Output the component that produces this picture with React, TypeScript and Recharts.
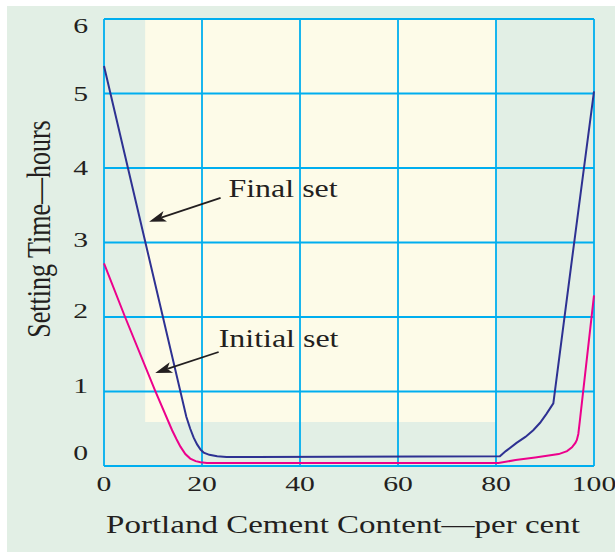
import React from "react";
import {
  LineChart,
  Line,
  XAxis,
  YAxis,
  CartesianGrid,
  ReferenceArea,
  ReferenceLine,
  ReferenceDot,
} from "recharts";

// tick values
const X_TICKS = [0, 20, 40, 60, 80, 100];
const Y_TICKS = [0, 1, 2, 3, 4, 5, 6];

// Final set curve (per cent cement -> hours)
const FINAL_X = [0, 16.8, 17.6, 18.3, 19, 19.7, 20.35, 21.5, 23.1, 25, 80.8, 82, 84.2, 86, 87.6, 89, 90.3, 91, 91.7, 95.5, 100];
const FINAL_Y = [5.37, 0.66, 0.5, 0.38, 0.29, 0.22, 0.18, 0.15, 0.13, 0.12, 0.13, 0.2, 0.31, 0.39, 0.48, 0.58, 0.7, 0.77, 0.84, 2.77, 5.03];

// Initial set curve
const INITIAL_X = [0, 4.3, 10.45, 13.9, 14.8, 15.6, 16.6, 17.6, 18.7, 19.7, 21, 80.5, 84, 88, 92.8, 94.5, 95.5, 96.2, 96.5, 96.8, 97.1, 100];
const INITIAL_Y = [2.72, 2.0, 1.01, 0.48, 0.36, 0.26, 0.16, 0.1, 0.065, 0.05, 0.04, 0.04, 0.08, 0.115, 0.16, 0.2, 0.25, 0.31, 0.35, 0.43, 0.6, 2.29];

// shaded (cream) region of the plot
const SHADE_X = [8.4, 80];
const SHADE_Y = [0.59, 6];

// annotation labels and arrows (data coords)
const LABELS = ["Final set", "Initial set"];
const LABEL_AT = [
  { x: 25.4, y: 3.61 },
  { x: 23.4, y: 1.6 },
];
const ARROWS = [
  [{ x: 23.8, y: 3.6 }, { x: 9.2, y: 3.28 }],
  [{ x: 23.4, y: 1.53 }, { x: 10.45, y: 1.25 }],
];

const finalData = FINAL_X.map((x, i) => ({ x, y: FINAL_Y[i] }));
const initialData = INITIAL_X.map((x, i) => ({ x, y: INITIAL_Y[i] }));

const FONT = "'Liberation Serif', 'Times New Roman', serif";
const INK = "#231f20";
const GRID = "#00aeef";

// small per-label nudges so the digits sit where the original has them
const Y_NUDGE: Record<number, number> = { 0: -14, 1: -6, 2: -7, 3: -3, 4: -1, 5: 0, 6: 6 };

function XTick({ x, y, payload }: any) {
  return (
    <text
      transform={`translate(${x},${y + 17}) scale(1.35,1)`}
      textAnchor="middle"
      fontFamily={FONT}
      fontSize={22}
      fill={INK}
    >
      {payload.value}
    </text>
  );
}

function YTick({ y, payload }: any) {
  const dy = Y_NUDGE[payload.value] ?? 0;
  return (
    <text
      transform={`translate(88,${y + dy + 7.5}) scale(1.35,1)`}
      textAnchor="end"
      fontFamily={FONT}
      fontSize={22}
      fill={INK}
    >
      {payload.value}
    </text>
  );
}

function Arrow(props: any) {
  const { x1, y1, x2, y2 } = props;
  const dx = x2 - x1;
  const dy = y2 - y1;
  const len = Math.sqrt(dx * dx + dy * dy);
  const ux = dx / len;
  const uy = dy / len;
  const head = 17;
  const half = 5.5;
  const bx = x2 - ux * head;
  const by = y2 - uy * head;
  const nx = x2 - ux * head * 0.75;
  const ny = y2 - uy * head * 0.75;
  const pts = [
    [x2, y2],
    [bx - uy * half, by + ux * half],
    [nx, ny],
    [bx + uy * half, by - ux * half],
  ]
    .map((p) => p.join(","))
    .join(" ");
  return (
    <g>
      <line x1={x1} y1={y1} x2={nx} y2={ny} stroke={INK} strokeWidth={1.8} />
      <polygon points={pts} fill={INK} />
    </g>
  );
}

function labelShape(text: string) {
  return (p: any) => (
    <text
      transform={`translate(${p.cx},${p.cy}) scale(1.23,1)`}
      fontFamily={FONT}
      fontSize={26}
      fill={INK}
    >
      {text}
    </text>
  );
}

export default function App() {
  return (
    <div style={{ position: "relative", width: 615, height: 552, background: "#ffffff" }}>
      <style>{"body{margin:0}"}</style>
      <div
        style={{ position: "absolute", left: 7, top: 6, right: 0, bottom: 0, background: "#e2efe5" }}
      />
      <div style={{ position: "absolute", left: 0, top: 0 }}>
        <LineChart width={615} height={552} margin={{ top: 19, right: 21, bottom: 26, left: 44 }}>
          <ReferenceArea
            x1={SHADE_X[0]}
            x2={SHADE_X[1]}
            y1={SHADE_Y[0]}
            y2={SHADE_Y[1]}
            fill="#fdfbe8"
            fillOpacity={1}
            stroke="none"
            zIndex={-150}
          />
          <CartesianGrid stroke={GRID} strokeWidth={1.8} />
          <XAxis
            type="number"
            dataKey="x"
            domain={[0, 100]}
            ticks={X_TICKS}
            axisLine={false}
            tickLine={false}
            height={60}
            tick={<XTick />}
            label={{
              content: () => (
                <text
                  transform="translate(343,533) scale(1.27,1)"
                  textAnchor="middle"
                  fontFamily={FONT}
                  fontSize={26}
                  fill={INK}
                >
                  Portland Cement Content—per cent
                </text>
              ),
            }}
          />
          <YAxis
            type="number"
            dataKey="y"
            domain={[0, 6]}
            ticks={Y_TICKS}
            axisLine={false}
            tickLine={false}
            width={60}
            tick={<YTick />}
            label={{
              content: () => (
                <text
                  transform="translate(50,229) rotate(-90) scale(1,1.3)"
                  textAnchor="middle"
                  fontFamily={FONT}
                  fontSize={26}
                  fill={INK}
                >
                  Setting Time—hours
                </text>
              ),
            }}
          />
          <Line
            data={finalData}
            dataKey="y"
            type="linear"
            stroke="#2e3192"
            strokeWidth={2}
            dot={false}
            isAnimationActive={false}
          />
          <Line
            data={initialData}
            dataKey="y"
            type="linear"
            stroke="#ec008c"
            strokeWidth={2}
            dot={false}
            isAnimationActive={false}
          />
          {ARROWS.map((seg, i) => (
            <ReferenceLine key={`a${i}`} segment={seg} shape={Arrow} />
          ))}
          {LABELS.map((t, i) => (
            <ReferenceDot key={`l${i}`} x={LABEL_AT[i].x} y={LABEL_AT[i].y} shape={labelShape(t)} />
          ))}
        </LineChart>
      </div>
    </div>
  );
}
